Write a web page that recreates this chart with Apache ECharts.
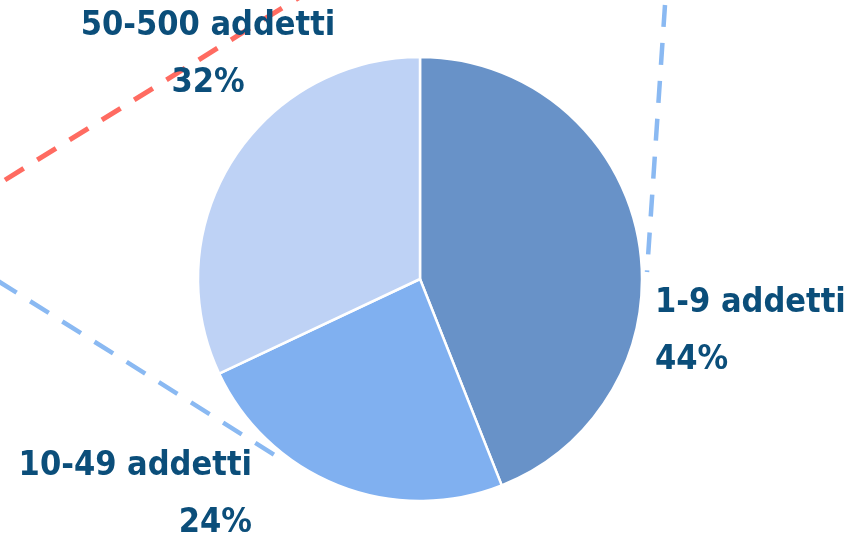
<!DOCTYPE html>
<html>
<head>
<meta charset="utf-8">
<style>
  html, body { margin: 0; padding: 0; background: #fff; }
  #chart { width: 850px; height: 539px; }
</style>
<script src="https://cdn.jsdelivr.net/npm/echarts@6/dist/echarts.min.js"></script>
</head>
<body>
<div id="chart"></div>
<script>
// dati
var categories = ['1-9 addetti', '10-49 addetti', '50-500 addetti'];
var shares = [44, 24, 32];
var sliceColors = ['#6892C8', '#80B0F0', '#BED2F5'];

var chart = echarts.init(document.getElementById('chart'));

// posizione delle etichette (x, y del primo rigo, allineamento)
var labelPos = [
	{ x: 655, y: 275, align: 'left' },
	{ x: 252, y: 438, align: 'right' },
	{ x: 208, y: -2, align: 'center' }
];

var pieData = [];
for (var i = 0; i < categories.length; i++) {
	pieData.push({
		name: categories[i],
		value: shares[i],
		itemStyle: { color: sliceColors[i] }
	});
}

var option = {
	backgroundColor: '#ffffff',
	animation: false,
	graphic: [
		{
			type: 'line', z: 0,
			shape: { x1: 5, y1: 180, x2: 300, y2: -3 },
			style: { stroke: '#FF6B61', lineWidth: 5, lineDash: [22, 16] }
		},
		{
			type: 'line', z: 0,
			shape: { x1: -2, y1: 281, x2: 284, y2: 461 },
			style: { stroke: '#8AB9F2', lineWidth: 4.5, lineDash: [22, 16] }
		},
		{
			type: 'line', z: 0,
			shape: { x1: 665, y1: 5, x2: 647, y2: 272 },
			style: { stroke: '#8AB9F2', lineWidth: 4.5, lineDash: [22, 16] }
		}
	],
	series: [{
		type: 'pie',
		z: 5,
		center: [420, 279],
		radius: 222,
		startAngle: 90,
		clockwise: true,
		avoidLabelOverlap: false,
		itemStyle: { borderColor: '#ffffff', borderWidth: 2.5 },
		label: {
			show: true,
			formatter: '{b}\n{d}%',
			color: '#0B4E7A',
			fontFamily: '"DejaVu Sans Condensed", "DejaVu Sans", sans-serif',
			fontWeight: 'bold',
			fontSize: 34,
			lineHeight: 57
		},
		labelLine: { show: false },
		labelLayout: function(params) {
			var p = labelPos[params.dataIndex];
			return { x: p.x, y: p.y, align: p.align, verticalAlign: 'top' };
		},
		emphasis: { disabled: true },
		data: pieData
	}]
};

chart.setOption(option);
</script>
</body>
</html>
